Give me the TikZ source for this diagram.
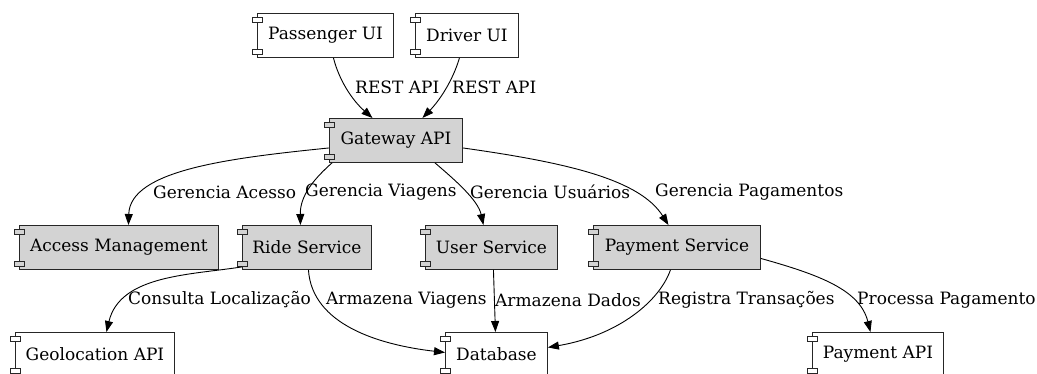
\documentclass[tikz,border=0pt]{standalone}
\usepackage{fontspec}
\setmainfont{DejaVu Serif}
\usetikzlibrary{arrows.meta}
\definecolor{gvgray}{HTML}{D3D3D3}
\begin{document}
\begin{tikzpicture}[x=1pt,y=1pt,
  comp/.style={draw=black!85, line width=0.9pt, rectangle, minimum height=44pt, inner sep=0pt, anchor=north west, font=\fontsize{17}{19}\selectfont},
  gcomp/.style={comp, fill=gvgray},
  wcomp/.style={comp, fill=white},
  edge/.style={draw=black, line width=0.9pt, -{Triangle[length=11pt,width=8pt]}},
  lbl/.style={anchor=west, inner sep=0pt, font=\fontsize{17}{19}\selectfont}]
\useasboundingbox (0,0) rectangle (1037,-373);
% nodes
\node[wcomp, minimum width=136pt] (pass) at (257,-13) {Passenger UI};
\node[wcomp, minimum width=103pt] (drv) at (415,-13) {Driver UI};
\node[gcomp, minimum width=133pt] (gw) at (329,-118) {Gateway API};
\node[gcomp, minimum width=199pt] (acc) at (19,-225) {Access Management};
\node[gcomp, minimum width=129pt] (ride) at (242,-225) {Ride Service};
\node[gcomp, minimum width=132pt] (user) at (425,-225) {User Service};
\node[gcomp, minimum width=167pt] (pay) at (593,-225) {Payment Service};
\node[wcomp, minimum width=159pt] (geo) at (15,-332) {Geolocation API};
\node[wcomp, minimum width=102pt] (db) at (445,-332) {Database};
\node[wcomp, minimum width=131pt] (papi) at (812,-332) {Payment API};
% tabs
\foreach \n/\f in {pass/white,drv/white,gw/gvgray,acc/gvgray,ride/gvgray,user/gvgray,pay/gvgray,geo/white,db/white,papi/white}{
  \draw[draw=black!85, line width=0.8pt, fill=\f] ([xshift=-5pt,yshift=-4pt]\n.north west) rectangle ([xshift=5pt,yshift=-9pt]\n.north west);
  \draw[draw=black!85, line width=0.8pt, fill=\f] ([xshift=-5pt,yshift=9pt]\n.south west) rectangle ([xshift=5pt,yshift=4pt]\n.south west);
}
% edges
\draw[edge] ([xshift=8pt]pass.south) .. controls (339,-80) and (352,-100) .. ([xshift=-23.5pt]gw.north);
\draw[edge] ([xshift=-7.5pt]drv.south) .. controls (453,-80) and (440,-100) .. ([xshift=26.5pt]gw.north);
\draw[edge] ([yshift=-7.5pt]gw.west) .. controls (230,-158) and (130,-170) .. ([xshift=9.5pt]acc.north);
\draw[edge] ([xshift=3pt]gw.south west) .. controls (315,-178) and (300,-195) .. ([xshift=-6.5pt]ride.north);
\draw[edge] ([xshift=106pt]gw.south west) .. controls (455,-180) and (478,-200) .. ([xshift=-8pt]user.north);
\draw[edge] ([yshift=-7.5pt]gw.east) .. controls (570,-163) and (640,-180) .. ([xshift=-8.5pt]pay.north);
\draw[edge] ([yshift=3pt]ride.south west) .. controls (190,-275) and (120,-275) .. ([xshift=11.5pt]geo.north);
\draw[edge] ([xshift=1.5pt]ride.south) .. controls (312,-325) and (380,-345) .. ([yshift=2pt]db.west);
\draw[edge] ([xshift=2pt]user.south) -- ([xshift=-1pt]db.north);
\draw[edge] ([xshift=-6.5pt]pay.south) .. controls (660,-300) and (620,-335) .. ([yshift=7pt]db.east);
\draw[edge] ([yshift=-11pt]pay.east) .. controls (820,-275) and (860,-290) .. ([xshift=-7.5pt]papi.north);
% labels
\node[lbl] (l1) at (355,-87) {REST API};
\node[lbl] (l2) at (452,-87) {REST API};
\node[lbl] (l3) at (153,-192) {Gerencia Acesso};
\node[lbl] (l4) at (305,-192) {Gerencia Viagens};
\node[lbl] (l5) at (470,-192) {Gerencia Usuários};
\node[lbl] (l6) at (655,-192) {Gerencia Pagamentos};
\node[lbl] (l7) at (128,-300) {Consulta Localização};
\node[lbl] (l8) at (326,-300) {Armazena Viagens};
\node[lbl] (l9) at (495,-300) {Armazena Dados};
\node[lbl] (l10) at (658,-300) {Registra Transações};
\node[lbl] (l11) at (857,-300) {Processa Pagamento};
\end{tikzpicture}
\end{document}
